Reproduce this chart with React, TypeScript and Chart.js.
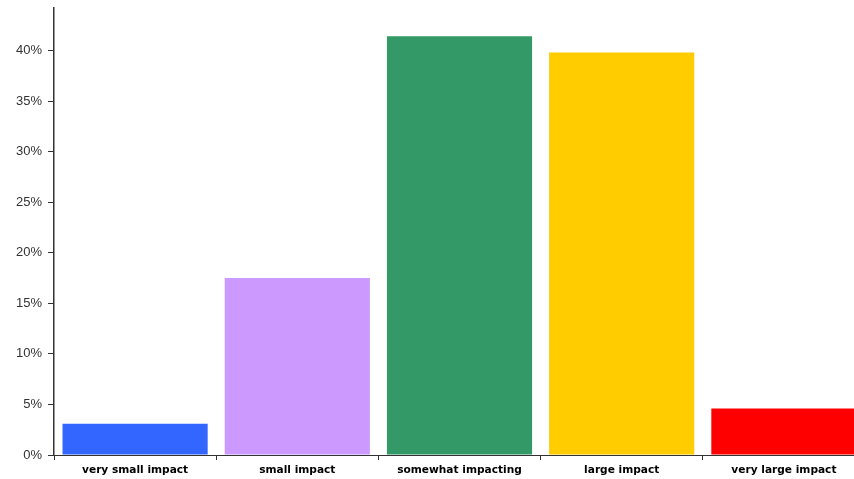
import React, { useEffect, useRef } from "react";
import { Chart, registerables } from "chart.js";

Chart.register(...registerables);

const categories = ["very small impact", "small impact", "somewhat impacting", "large impact", "very large impact"];
const values = [3.1, 17.5, 41.4, 39.8, 4.6];
const barColors = ["#3366FF", "#CC99FF", "#339966", "#FFCC00", "#FF0000"];
const yTickStep = 5;
const yMax = 44.2;

export default function App() {
  const ref = useRef<HTMLCanvasElement | null>(null);
  useEffect(() => {
    if (!ref.current) return;
    const chart = new Chart(ref.current, {
      type: "bar",
      data: {
        labels: categories,
        datasets: [
          {
            data: values,
            backgroundColor: barColors,
            borderWidth: 0,
            barPercentage: 0.895,
            categoryPercentage: 1,
          },
        ],
      },
      options: {
        responsive: false,
        animation: false,
        devicePixelRatio: 1,
        layout: { padding: { top: 8, left: 0, right: 0, bottom: 0 } },
        plugins: { legend: { display: false }, tooltip: { enabled: false } },
        scales: {
          x: {
            afterFit: (s: any) => {
              s.height = 24;
              s.paddingLeft = 0;
              s.paddingRight = 0;
            },
            border: { display: true, color: "#333", width: 1 },
            grid: { display: true, drawOnChartArea: false, drawTicks: true, tickLength: 5, color: "#333", offset: true },
            ticks: {
              color: "#000",
              padding: 4,
              maxRotation: 0,
              autoSkip: false,
              font: { family: "DejaVu Sans", size: 10.6, weight: "bold" },
            },
          },
          y: {
            min: 0,
            max: yMax,
            afterFit: (s: any) => {
              s.width = 54;
              s.paddingTop = 0;
              s.paddingBottom = 0;
            },
            afterBuildTicks: (s: any) => {
              s.ticks = s.ticks.filter((t: any) => Math.abs(t.value / yTickStep - Math.round(t.value / yTickStep)) < 1e-6);
            },
            border: { display: true, color: "#333", width: 1.5 },
            grid: { display: true, drawOnChartArea: false, drawTicks: true, tickLength: 6, color: "#333" },
            ticks: {
              stepSize: yTickStep,
              padding: 6,
              color: "#333",
              font: { family: "Liberation Sans", size: 13 },
              callback: (v: any) => v + "%",
            },
          },
        },
      },
    });
    return () => chart.destroy();
  }, []);
  return (
    <div style={{ position: "fixed", left: 0, top: 0, width: 854, height: 479, overflow: "hidden", background: "#fff" }}>
      <canvas ref={ref} width={865} height={479} style={{ display: "block" }} />
    </div>
  );
}
